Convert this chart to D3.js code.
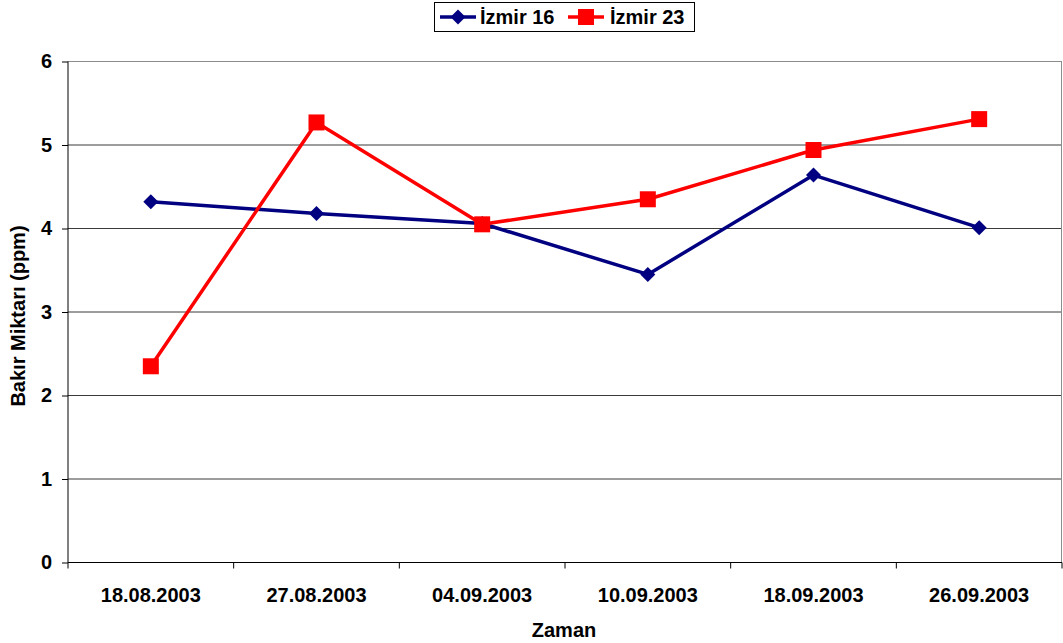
<!DOCTYPE html>
<html>
<head>
<meta charset="utf-8">
<script src="https://cdn.jsdelivr.net/npm/d3@7"></script>
<style>
  body { margin: 0; background: #fff; }
  svg { display: block; font-family: "Liberation Sans", Arial, sans-serif; }
</style>
</head>
<body>
<svg id="chart" width="1063" height="643"></svg>
<script>
// Sampling dates and copper measurements (ppm) per station
const dates = ["18.08.2003", "27.08.2003", "04.09.2003", "10.09.2003", "18.09.2003", "26.09.2003"];
const izmir16 = [4.32, 4.18, 4.06, 3.45, 4.64, 4.01];
const izmir23 = [2.35, 5.27, 4.05, 4.35, 4.94, 5.31];
const yTicks = [0, 1, 2, 3, 4, 5, 6];
const seriesNames = ["İzmir 16", "İzmir 23"];

const svg = d3.select("#chart");
const margin = { left: 68, right: 1062, top: 61.5, bottom: 562.5 };
const fs = 20;

const x = d3.scaleBand().domain(dates).range([margin.left, margin.right]);
const y = d3.scaleLinear().domain([0, 6]).range([margin.bottom, margin.top]);

// Horizontal gridlines
svg.append("g").selectAll("line")
  .data(yTicks.filter(d => d > 0))
  .join("line")
  .attr("x1", margin.left).attr("x2", margin.right)
  .attr("y1", d => y(d)).attr("y2", d => y(d))
  .attr("stroke", d => d === 6 ? "#8c8c8c" : "#3a3a3a")
  .attr("stroke-width", 1);

// Right border of plot area
svg.append("line")
  .attr("x1", margin.right - 0.5).attr("x2", margin.right - 0.5)
  .attr("y1", margin.top).attr("y2", margin.bottom)
  .attr("stroke", "#8c8c8c");

// Y axis
const yAxis = svg.append("g")
  .attr("transform", `translate(${margin.left},0)`)
  .call(d3.axisLeft(y).tickValues(yTicks).tickSize(6).tickPadding(10).tickFormat(d3.format("d")));
yAxis.select(".domain").attr("stroke", "#000").attr("d", `M-0,${margin.top}V${margin.bottom}`);
yAxis.selectAll(".tick line").attr("stroke", "#000");
yAxis.selectAll("text").attr("font-size", fs).attr("font-weight", "bold").attr("fill", "#000");

// X axis: ticks sit on category boundaries
const xAxisG = svg.append("g").attr("transform", `translate(0,${margin.bottom})`);
xAxisG.append("line")
  .attr("x1", margin.left).attr("x2", margin.right)
  .attr("stroke", "#000");
const bounds = d3.range(dates.length + 1).map(i => margin.left + i * x.step());
xAxisG.selectAll("line.tk").data(bounds).join("line").attr("class", "tk")
  .attr("x1", d => d).attr("x2", d => d).attr("y1", 0).attr("y2", 6)
  .attr("stroke", "#000");
xAxisG.selectAll("text").data(dates).join("text")
  .attr("x", d => x(d) + x.bandwidth() / 2)
  .attr("y", 39)
  .attr("text-anchor", "middle")
  .attr("font-size", fs).attr("font-weight", "bold")
  .text(d => d);

// Axis titles
svg.append("text")
  .attr("x", 564).attr("y", 637)
  .attr("text-anchor", "middle")
  .attr("font-size", fs).attr("font-weight", "bold")
  .text("Zaman");
svg.append("text")
  .attr("transform", "translate(25,316) rotate(-90)")
  .attr("text-anchor", "middle")
  .attr("font-size", fs).attr("font-weight", "bold")
  .text("Bakır Miktarı (ppm)");

const cx = d => x(d) + x.bandwidth() / 2;
const line = d3.line().x(d => cx(d.date)).y(d => y(d.v));

const s16 = dates.map((d, i) => ({ date: d, v: izmir16[i] }));
const s23 = dates.map((d, i) => ({ date: d, v: izmir23[i] }));

const blue = "#000080", red = "#ff0000";

svg.append("path").datum(s16).attr("d", line)
  .attr("fill", "none").attr("stroke", blue).attr("stroke-width", 3.5).attr("stroke-linejoin", "round");
svg.append("path").datum(s23).attr("d", line)
  .attr("fill", "none").attr("stroke", red).attr("stroke-width", 3.5).attr("stroke-linejoin", "round");

const diamond = "M0,-7.5L7.5,0L0,7.5L-7.5,0Z";
svg.append("g").selectAll("path").data(s16).join("path")
  .attr("d", diamond)
  .attr("transform", d => `translate(${cx(d.date)},${y(d.v)})`)
  .attr("fill", blue);
svg.append("g").selectAll("rect").data(s23).join("rect")
  .attr("x", d => cx(d.date) - 8).attr("y", d => y(d.v) - 8)
  .attr("width", 16).attr("height", 16)
  .attr("fill", red);

// Legend
const legend = svg.append("g");
legend.append("rect")
  .attr("x", 434.5).attr("y", 2.5).attr("width", 260).attr("height", 29)
  .attr("fill", "#fff").attr("stroke", "#000").attr("stroke-width", 1);
const items = [
  { name: seriesNames[0], color: blue, lx: 440, tx: 480 },
  { name: seriesNames[1], color: red, lx: 568, tx: 610 }
];
items.forEach((it, i) => {
  legend.append("line")
    .attr("x1", it.lx).attr("x2", it.lx + 36).attr("y1", 17).attr("y2", 17)
    .attr("stroke", it.color).attr("stroke-width", 3.5);
  const mx = it.lx + 18;
  if (i === 0) {
    legend.append("path").attr("d", diamond).attr("transform", `translate(${mx},17)`).attr("fill", it.color);
  } else {
    legend.append("rect").attr("x", mx - 8).attr("y", 9).attr("width", 16).attr("height", 16).attr("fill", it.color);
  }
  legend.append("text")
    .attr("x", it.tx).attr("y", 24)
    .attr("font-size", fs).attr("font-weight", "bold")
    .text(it.name);
});
</script>
</body>
</html>
